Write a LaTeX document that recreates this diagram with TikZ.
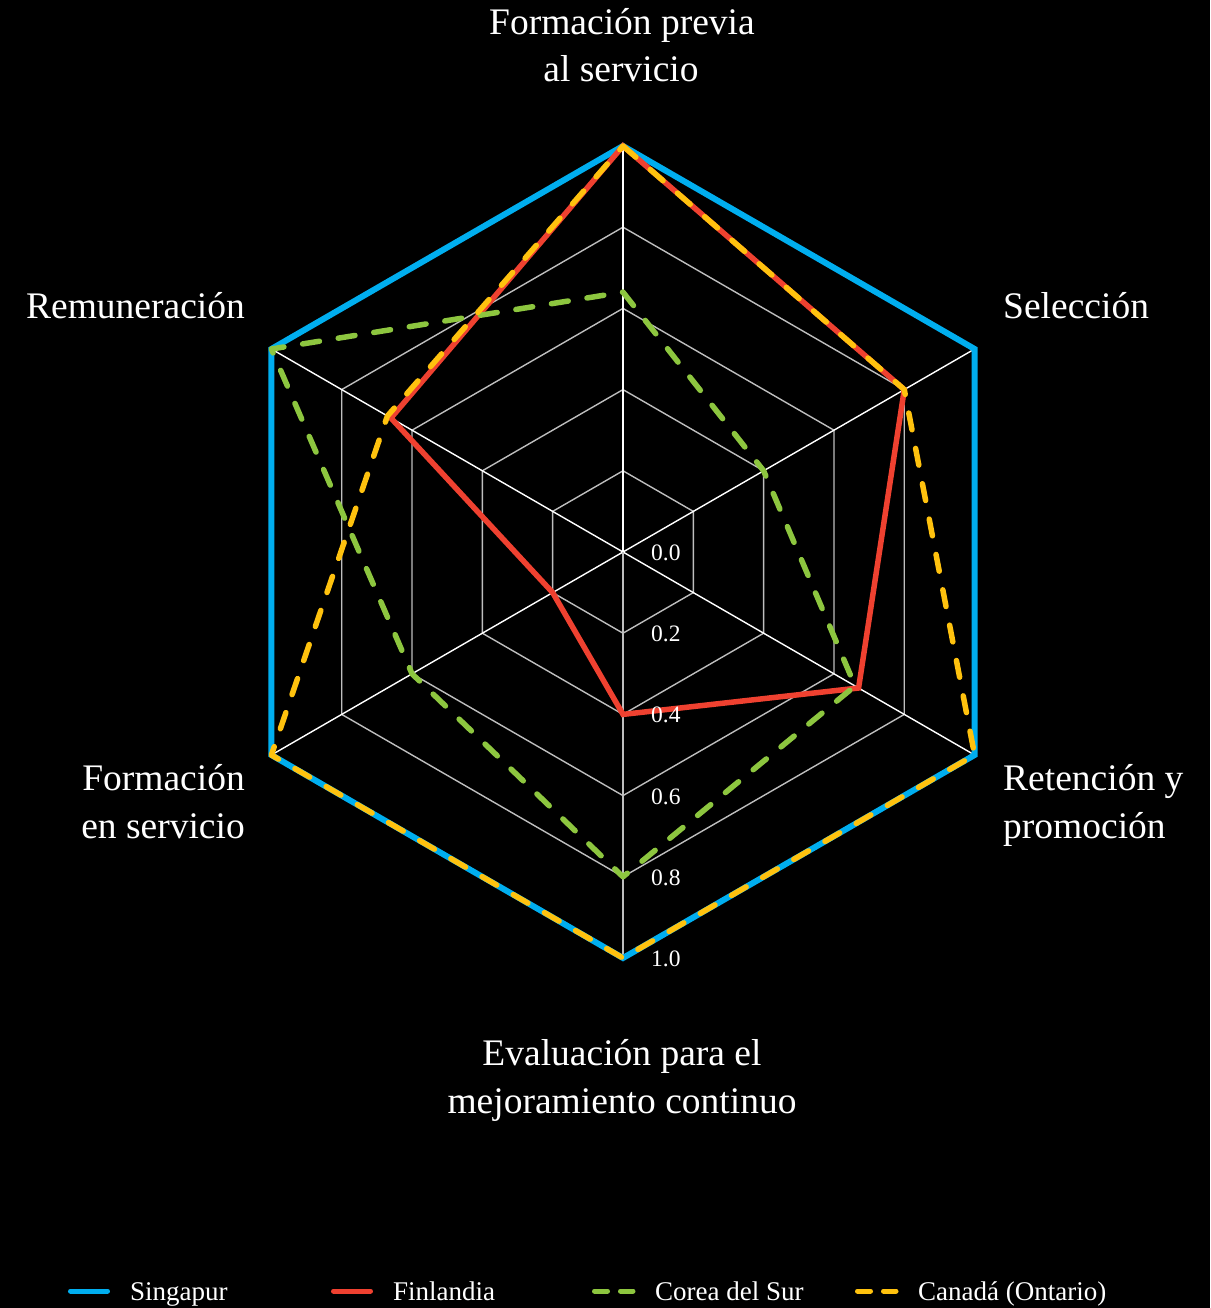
\documentclass[tikz,border=0pt]{standalone}
\usepackage{fontspec}
\setmainfont{Liberation Serif}
\definecolor{sgblue}{RGB}{0,174,239}
\definecolor{fired}{RGB}{239,65,48}
\definecolor{kogreen}{RGB}{141,198,63}
\definecolor{cayellow}{RGB}{255,194,14}
\definecolor{gridgray}{RGB}{190,190,190}
\begin{document}
\begin{tikzpicture}[x=1pt,y=1pt,
  ring/.style={draw=gridgray, line width=1.4pt},
  spoke/.style={draw=white, line width=1.4pt},
  sgline/.style={draw=sgblue, line width=6pt, miter limit=10},
  filine/.style={draw=fired, line width=5.5pt, miter limit=10},
  koline/.style={draw=kogreen, line width=5.5pt, line cap=round, line join=round, dash pattern=on 17pt off 19pt},
  caline/.style={draw=cayellow, line width=5.5pt, line cap=round, line join=round, dash pattern=on 17pt off 19pt},
  legline/.style={line width=5pt, line cap=round},
  legdash/.style={line width=5pt, line cap=round, dash pattern=on 13pt off 13pt},
  axlabel/.style={text=white, inner sep=0pt, font=\fontsize{37.5}{45}\selectfont},
  ticklabel/.style={text=white, inner sep=0pt, font=\fontsize{23.5}{28}\selectfont},
  legtext/.style={text=white, inner sep=0pt, font=\fontsize{27}{32}\selectfont},
]
\fill[black] (-623,-756) rectangle (587,552);
\useasboundingbox (-623,-756) rectangle (587,552);
\def\R{406}
\coordinate (O) at (0,0);
\coordinate (v1) at (90:\R);
\coordinate (v2) at (30:\R);
\coordinate (v3) at (-30:\R);
\coordinate (v4) at (-90:\R);
\coordinate (v5) at (210:\R);
\coordinate (v6) at (150:\R);
% grid rings
\foreach \k in {1,...,5}{
  \draw[ring] (90:\k*81.2) -- (30:\k*81.2) -- (-30:\k*81.2) -- (-90:\k*81.2) -- (210:\k*81.2) -- (150:\k*81.2) -- cycle;
}
% spokes
\draw[spoke] (O) -- (v1);
\draw[spoke] (O) -- (v2);
\draw[spoke] (O) -- (v3);
\draw[spoke] (O) -- (v5);
\draw[spoke] (O) -- (v6);
\draw[ring] (O) -- (v4);
% series
\draw[sgline] (v1) -- (v2) -- (v3) -- (v4) -- (v5) -- (v6) -- cycle;
\draw[filine] (90:\R) -- (30:0.8*\R) -- (-30:0.67*\R) -- (-90:0.4*\R) -- (210:0.2*\R) -- (150:0.66*\R) -- cycle;
\draw[koline] (90:0.64*\R) -- (30:0.4*\R) -- (-30:0.66*\R) -- (-90:0.8*\R) -- (210:0.6*\R) -- (150:\R) -- cycle;
\draw[caline] (90:\R) -- (30:0.8*\R) -- (-30:\R) -- (-90:\R) -- (210:\R) -- (150:0.67*\R) -- cycle;
% tick labels
\foreach \k/\t in {0/0.0,1/0.2,2/0.4,3/0.6,4/0.8,5/1.0}{
  \node[ticklabel, anchor=base west] (tick\k) at (28,-8.5-\k*81.2) {\t};
}
% axis labels
\node[axlabel, anchor=base] (l1a) at (-1,517) {Formación previa};
\node[axlabel, anchor=base] (l1b) at (-2,470) {al servicio};
\node[axlabel, anchor=base west] (l2) at (380,233) {Selección};
\node[axlabel, anchor=base west] (l3a) at (380,-238) {Retención y};
\node[axlabel, anchor=base west] (l3b) at (380,-286) {promoción};
\node[axlabel, anchor=base] (l4a) at (-1,-513) {Evaluación para el};
\node[axlabel, anchor=base] (l4b) at (-1,-561) {mejoramiento continuo};
\node[axlabel, anchor=base east] (l5a) at (-378,-238) {Formación};
\node[axlabel, anchor=base east] (l5b) at (-378,-286) {en servicio};
\node[axlabel, anchor=base east] (l6) at (-378,233) {Remuneración};
% legend
\coordinate (a1) at (-552.5,-739); \coordinate (b1) at (-515.5,-739);
\coordinate (a2) at (-289.5,-739); \coordinate (b2) at (-252.5,-739);
\coordinate (a3) at (-28.5,-739);  \coordinate (b3) at (10,-739);
\coordinate (a4) at (234.5,-739);  \coordinate (b4) at (273,-739);
\draw[legline, sgblue] (a1) -- (b1);
\draw[legline, fired] (a2) -- (b2);
\draw[legdash, kogreen] (a3) -- (b3);
\draw[legdash, cayellow] (a4) -- (b4);
\node[legtext, anchor=base west] (t1) at (-493,-748) {Singapur};
\node[legtext, anchor=base west] (t2) at (-230,-748) {Finlandia};
\node[legtext, anchor=base west] (t3) at (32,-748) {Corea del Sur};
\node[legtext, anchor=base west] (t4) at (295,-748) {Canadá (Ontario)};
\end{tikzpicture}
\end{document}
